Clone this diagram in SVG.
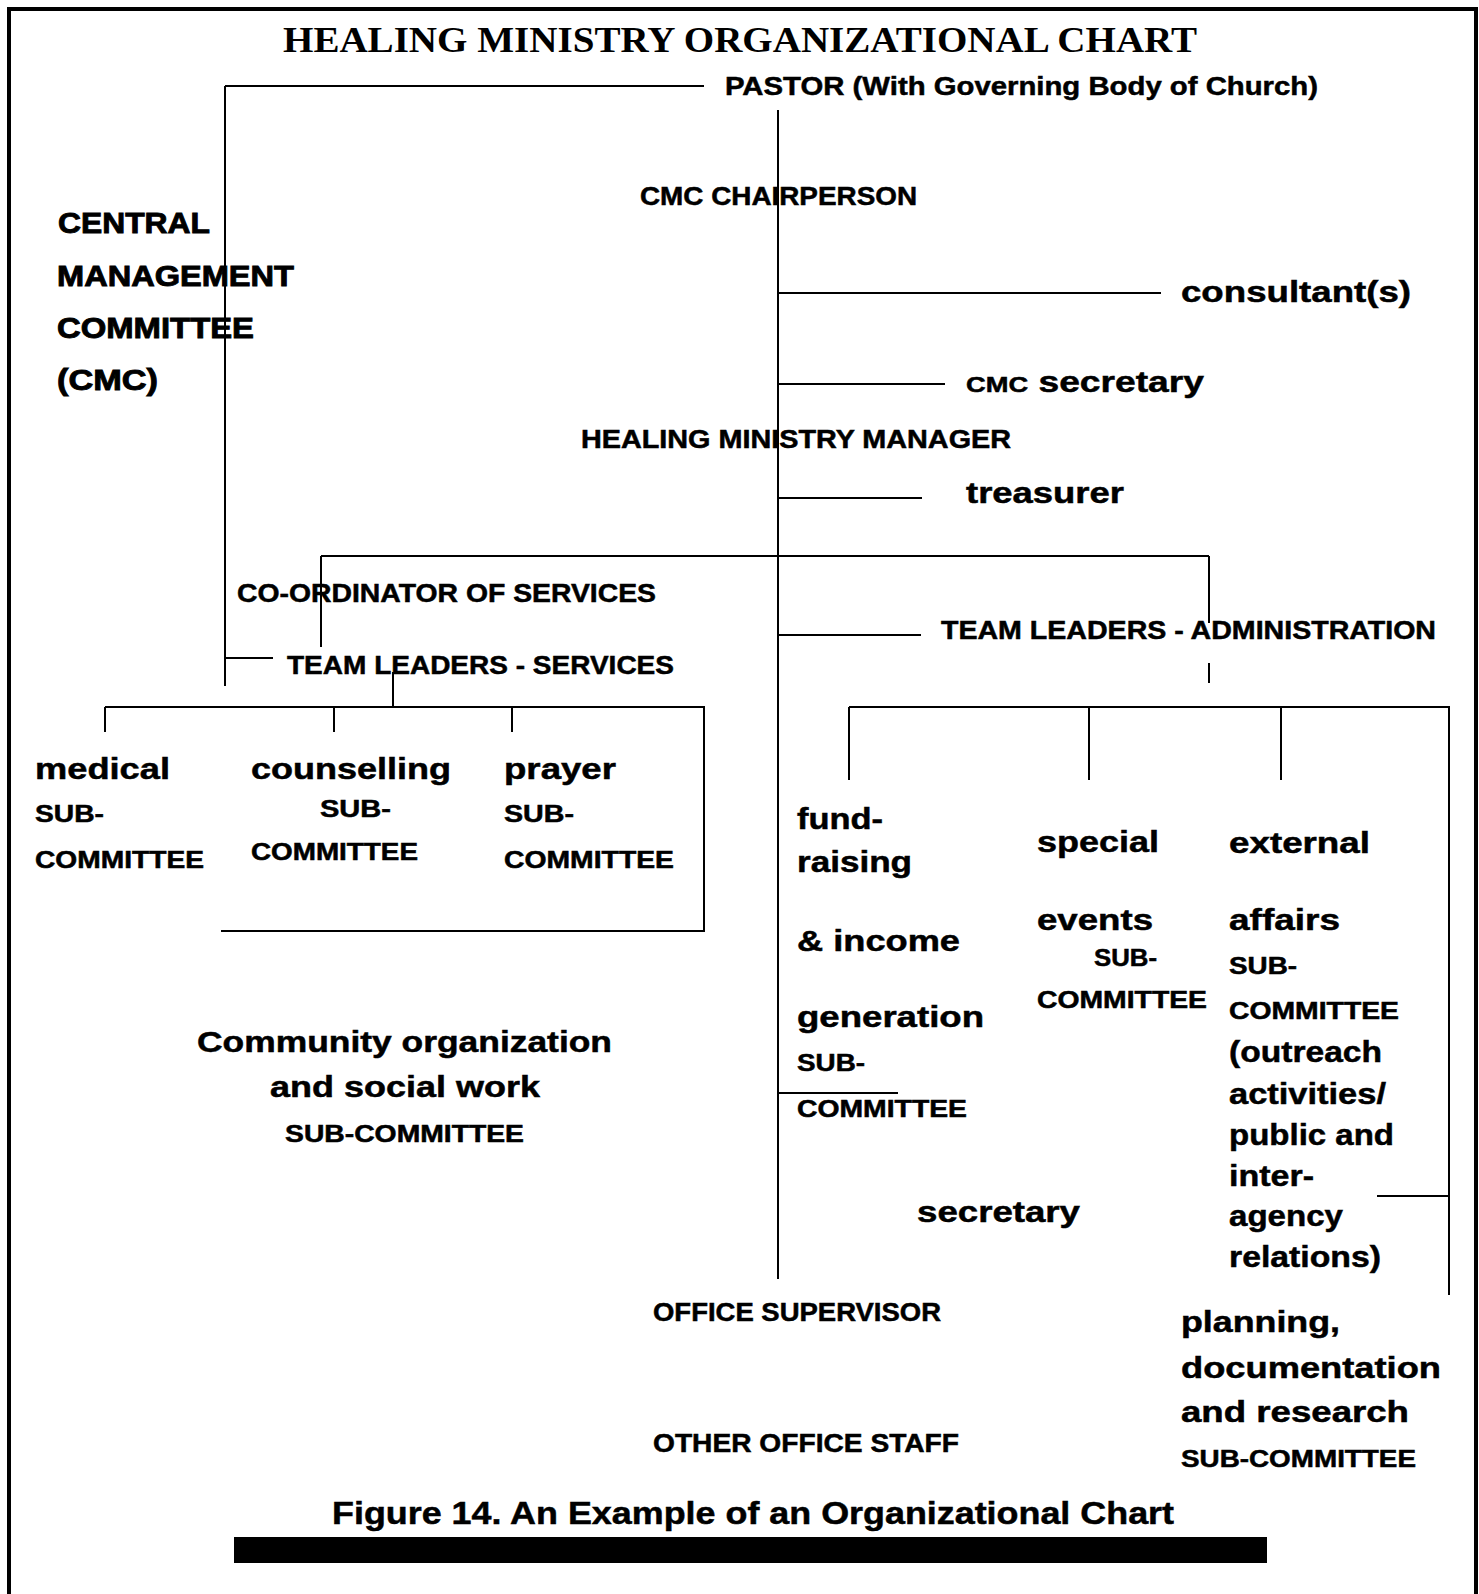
<svg xmlns="http://www.w3.org/2000/svg" width="1479" height="1594" viewBox="0 0 1479 1594">
  <style>
    .t { font-family: "Liberation Sans", Arial, sans-serif; font-weight: bold; fill: #000; stroke: #000; stroke-width: 0.5; }
    .ttl { font-family: "Liberation Serif", "Times New Roman", serif; font-weight: bold; fill: #000; }
    .caps { font-size: 25px; }
    .big { font-size: 30px; }
    .sub { font-size: 23px; }
    .heavy { font-size: 29px; stroke-width: 0.9; }
    .ln { stroke: #000; stroke-width: 2; fill: none; }
  </style>
  <rect width="1479" height="1594" fill="#fff"/>
  <!-- page frame, open at the bottom -->
  <path d="M9 1594 V9 H1476 V1594" fill="none" stroke="#000" stroke-width="4"/>

  <g id="title">
    <text class="ttl" x="283" y="52" font-size="36" textLength="914" lengthAdjust="spacingAndGlyphs">HEALING MINISTRY ORGANIZATIONAL CHART</text>
  </g>

  <g id="connectors">
    <!-- pastor to left spine -->
    <path class="ln" d="M225 86 H704"/>
    <path class="ln" d="M225 86 V686"/>
    <path class="ln" d="M225 658 H273"/>
    <!-- main spine -->
    <path class="ln" d="M778 110 V1279"/>
    <!-- staff branches -->
    <path class="ln" d="M778 293 H1161"/>
    <path class="ln" d="M778 384 H945"/>
    <path class="ln" d="M778 498 H922"/>
    <path class="ln" d="M778 635 H921"/>
    <path class="ln" d="M778 1093 H898"/>
    <!-- coordinator bar -->
    <path class="ln" d="M321 556 H1209"/>
    <path class="ln" d="M321 556 V647"/>
    <path class="ln" d="M1209 556 V623"/>
    <path class="ln" d="M1209 663 V683"/>
    <!-- services bar -->
    <path class="ln" d="M393 672 V707"/>
    <path class="ln" d="M105 707 H704 V931 H221"/>
    <path class="ln" d="M105 707 V732"/>
    <path class="ln" d="M334 707 V732"/>
    <path class="ln" d="M512 707 V732"/>
    <!-- administration bar -->
    <path class="ln" d="M849 707 H1449 V1295"/>
    <path class="ln" d="M849 707 V780"/>
    <path class="ln" d="M1089 707 V780"/>
    <path class="ln" d="M1281 707 V780"/>
    <path class="ln" d="M1377 1196 H1449"/>
  </g>

  <g id="pastor">
    <text class="t" x="725" y="95" font-size="26" textLength="593" lengthAdjust="spacingAndGlyphs">PASTOR (With Governing Body of Church)</text>
  </g>

  <g id="cmc">
    <text class="t heavy" x="58" y="233" textLength="152" lengthAdjust="spacingAndGlyphs">CENTRAL</text>
    <text class="t heavy" x="57" y="286" textLength="237" lengthAdjust="spacingAndGlyphs">MANAGEMENT</text>
    <text class="t heavy" x="57" y="338" textLength="197" lengthAdjust="spacingAndGlyphs">COMMITTEE</text>
    <text class="t heavy" x="57" y="390" textLength="101" lengthAdjust="spacingAndGlyphs">(CMC)</text>
  </g>

  <g id="cmc-chairperson">
    <text class="t caps" x="640" y="205" textLength="277" lengthAdjust="spacingAndGlyphs">CMC CHAIRPERSON</text>
  </g>

  <g id="consultants">
    <text class="t big" x="1181" y="302" textLength="230" lengthAdjust="spacingAndGlyphs">consultant(s)</text>
  </g>

  <g id="cmc-secretary">
    <text class="t" x="966" y="392" textLength="238" lengthAdjust="spacingAndGlyphs"><tspan font-size="22">CMC</tspan><tspan font-size="30"> secretary</tspan></text>
  </g>

  <g id="manager">
    <text class="t caps" x="581" y="448" textLength="430" lengthAdjust="spacingAndGlyphs">HEALING MINISTRY MANAGER</text>
  </g>

  <g id="treasurer">
    <text class="t big" x="966" y="503" textLength="158" lengthAdjust="spacingAndGlyphs">treasurer</text>
  </g>

  <g id="coordinator">
    <text class="t caps" x="237" y="602" textLength="419" lengthAdjust="spacingAndGlyphs">CO-ORDINATOR OF SERVICES</text>
  </g>

  <g id="team-services">
    <text class="t caps" x="287" y="674" textLength="387" lengthAdjust="spacingAndGlyphs">TEAM LEADERS - SERVICES</text>
  </g>

  <g id="team-admin">
    <text class="t caps" x="941" y="639" textLength="495" lengthAdjust="spacingAndGlyphs">TEAM LEADERS - ADMINISTRATION</text>
  </g>

  <g id="medical">
    <text class="t big" x="35" y="779" textLength="135" lengthAdjust="spacingAndGlyphs">medical</text>
    <text class="t sub" x="35" y="822" textLength="69" lengthAdjust="spacingAndGlyphs">SUB-</text>
    <text class="t sub" x="35" y="868" textLength="169" lengthAdjust="spacingAndGlyphs">COMMITTEE</text>
  </g>

  <g id="counselling">
    <text class="t big" x="251" y="779" textLength="200" lengthAdjust="spacingAndGlyphs">counselling</text>
    <text class="t sub" x="320" y="817" textLength="71" lengthAdjust="spacingAndGlyphs">SUB-</text>
    <text class="t sub" x="251" y="860" textLength="167" lengthAdjust="spacingAndGlyphs">COMMITTEE</text>
  </g>

  <g id="prayer">
    <text class="t big" x="504" y="779" textLength="112" lengthAdjust="spacingAndGlyphs">prayer</text>
    <text class="t sub" x="504" y="822" textLength="70" lengthAdjust="spacingAndGlyphs">SUB-</text>
    <text class="t sub" x="504" y="868" textLength="170" lengthAdjust="spacingAndGlyphs">COMMITTEE</text>
  </g>

  <g id="community">
    <text class="t big" x="197" y="1052" textLength="415" lengthAdjust="spacingAndGlyphs">Community organization</text>
    <text class="t big" x="270" y="1097" textLength="270" lengthAdjust="spacingAndGlyphs">and social work</text>
    <text class="t sub" x="285" y="1142" textLength="239" lengthAdjust="spacingAndGlyphs">SUB-COMMITTEE</text>
  </g>

  <g id="fund-raising">
    <text class="t big" x="797" y="829" textLength="86" lengthAdjust="spacingAndGlyphs">fund-</text>
    <text class="t big" x="797" y="872" textLength="115" lengthAdjust="spacingAndGlyphs">raising</text>
    <text class="t big" x="797" y="951" textLength="163" lengthAdjust="spacingAndGlyphs">&amp; income</text>
    <text class="t big" x="797" y="1027" textLength="187" lengthAdjust="spacingAndGlyphs">generation</text>
    <text class="t sub" x="797" y="1071" textLength="68" lengthAdjust="spacingAndGlyphs">SUB-</text>
    <text class="t sub" x="797" y="1117" textLength="170" lengthAdjust="spacingAndGlyphs">COMMITTEE</text>
  </g>

  <g id="special-events">
    <text class="t big" x="1037" y="852" textLength="122" lengthAdjust="spacingAndGlyphs">special</text>
    <text class="t big" x="1037" y="930" textLength="116" lengthAdjust="spacingAndGlyphs">events</text>
    <text class="t sub" x="1094" y="966" textLength="63" lengthAdjust="spacingAndGlyphs">SUB-</text>
    <text class="t sub" x="1037" y="1008" textLength="170" lengthAdjust="spacingAndGlyphs">COMMITTEE</text>
  </g>

  <g id="external-affairs">
    <text class="t big" x="1229" y="853" textLength="141" lengthAdjust="spacingAndGlyphs">external</text>
    <text class="t big" x="1229" y="930" textLength="111" lengthAdjust="spacingAndGlyphs">affairs</text>
    <text class="t sub" x="1229" y="974" textLength="68" lengthAdjust="spacingAndGlyphs">SUB-</text>
    <text class="t sub" x="1229" y="1019" textLength="170" lengthAdjust="spacingAndGlyphs">COMMITTEE</text>
    <text class="t big" x="1229" y="1062" textLength="153" lengthAdjust="spacingAndGlyphs">(outreach</text>
    <text class="t big" x="1229" y="1104" textLength="157" lengthAdjust="spacingAndGlyphs">activities/</text>
    <text class="t big" x="1229" y="1145" textLength="165" lengthAdjust="spacingAndGlyphs">public and</text>
    <text class="t big" x="1229" y="1186" textLength="85" lengthAdjust="spacingAndGlyphs">inter-</text>
    <text class="t big" x="1229" y="1226" textLength="114" lengthAdjust="spacingAndGlyphs">agency</text>
    <text class="t big" x="1229" y="1267" textLength="152" lengthAdjust="spacingAndGlyphs">relations)</text>
  </g>

  <g id="secretary">
    <text class="t big" x="917" y="1222" textLength="163" lengthAdjust="spacingAndGlyphs">secretary</text>
  </g>

  <g id="office-supervisor">
    <text class="t caps" x="653" y="1321" textLength="288" lengthAdjust="spacingAndGlyphs">OFFICE SUPERVISOR</text>
  </g>

  <g id="other-staff">
    <text class="t caps" x="653" y="1452" textLength="306" lengthAdjust="spacingAndGlyphs">OTHER OFFICE STAFF</text>
  </g>

  <g id="planning">
    <text class="t big" x="1181" y="1332" textLength="159" lengthAdjust="spacingAndGlyphs">planning,</text>
    <text class="t big" x="1181" y="1378" textLength="260" lengthAdjust="spacingAndGlyphs">documentation</text>
    <text class="t big" x="1181" y="1422" textLength="228" lengthAdjust="spacingAndGlyphs">and research</text>
    <text class="t sub" x="1181" y="1467" textLength="235" lengthAdjust="spacingAndGlyphs">SUB-COMMITTEE</text>
  </g>

  <g id="caption">
    <text class="t" x="332" y="1524" font-size="32" textLength="842" lengthAdjust="spacingAndGlyphs">Figure 14. An Example of an Organizational Chart</text>
    <rect x="234" y="1537" width="1033" height="26" fill="#000"/>
  </g>
</svg>
